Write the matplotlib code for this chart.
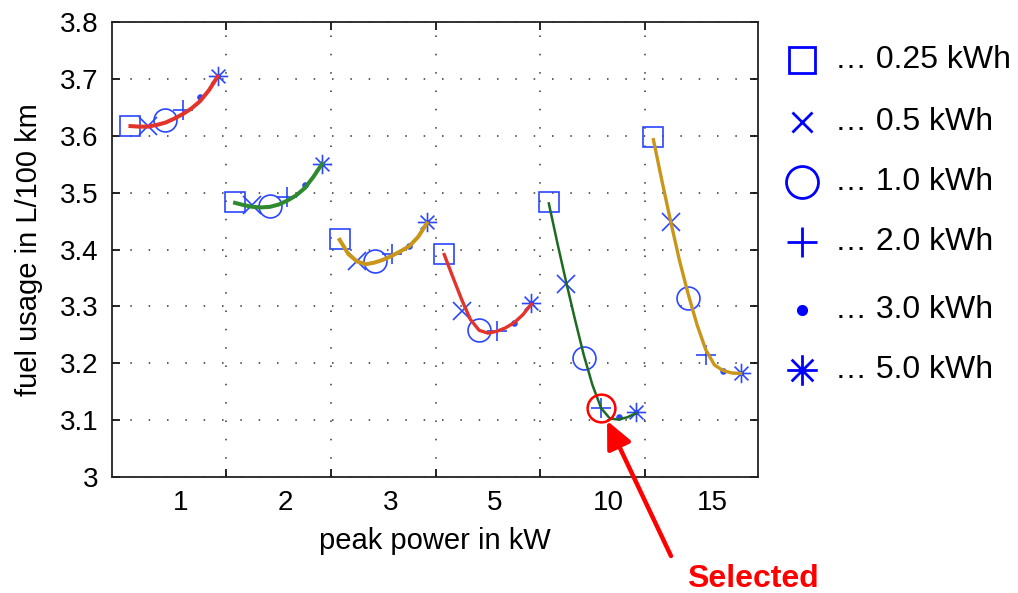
import matplotlib
matplotlib.use("Agg")
import matplotlib.pyplot as plt
from matplotlib.path import Path
from matplotlib.lines import Line2D

plt.rcParams['font.family'] = ['Liberation Sans', 'DejaVu Sans']

# peak power groups (kW) and battery capacities (kWh)
powers = ['1', '2', '3', '5', '10', '15']
capacities = ['0.25', '0.5', '1.0', '2.0', '3.0', '5.0']

# fuel usage (L/100 km) per power group, one value per capacity
fuel_1 = [3.617, 3.617, 3.627, 3.646, 3.668, 3.705]
fuel_2 = [3.483, 3.479, 3.476, 3.492, 3.513, 3.551]
fuel_3 = [3.419, 3.380, 3.379, 3.392, 3.407, 3.448]
fuel_5 = [3.392, 3.292, 3.259, 3.256, 3.271, 3.306]
fuel_10 = [3.483, 3.339, 3.209, 3.121, 3.106, 3.115]
fuel_15 = [3.598, 3.448, 3.315, 3.215, 3.186, 3.183]

# fitted curves, read at half-steps between the markers
fit_1 = [3.617, 3.616, 3.616, 3.619, 3.623, 3.630, 3.638, 3.648, 3.661, 3.680, 3.704]
fit_2 = [3.482, 3.478, 3.475, 3.474, 3.475, 3.479, 3.486, 3.495, 3.508, 3.528, 3.551]
fit_3 = [3.417, 3.392, 3.379, 3.374, 3.377, 3.382, 3.389, 3.397, 3.406, 3.422, 3.446]
fit_5 = [3.391, 3.351, 3.312, 3.277, 3.258, 3.253, 3.256, 3.262, 3.271, 3.285, 3.304]
fit_10 = [3.481, 3.410, 3.342, 3.277, 3.215, 3.162, 3.121, 3.103, 3.101, 3.105, 3.112]
fit_15 = [3.593, 3.519, 3.448, 3.380, 3.321, 3.268, 3.224, 3.197, 3.187, 3.183, 3.182]

fuel = [fuel_1, fuel_2, fuel_3, fuel_5, fuel_10, fuel_15]
fits = [fit_1, fit_2, fit_3, fit_5, fit_10, fit_15]

selected_group = 4
selected_cap = 3

curve_colors = ['#e3332b', '#2f8a2f', '#c9961a', '#e3332b', '#1f6a22', '#c9961a']
curve_widths = [2.9, 2.9, 2.9, 2.4, 1.8, 2.4]

# MATLAB style asterisk (plus and cross together)
star = Path([(-1, 0), (1, 0), (0, -1), (0, 1),
             (-0.71, -0.71), (0.71, 0.71), (-0.71, 0.71), (0.71, -0.71)],
            [Path.MOVETO, Path.LINETO] * 4)
markers = ['s', 'x', 'o', '+', 'o', star]
msizes = [14.5, 13, 16.5, 15, 3.5, 14]
mfill = ['none', 'none', 'none', 'none', 'full', 'none']
blue = '#2a46ff'

fig = plt.figure(figsize=(10.18, 5.93), dpi=100)
ax = fig.add_axes([112 / 1018, 1 - 477 / 593, (758 - 112) / 1018, (477 - 22) / 593])

n = len(capacities)
for g in range(len(powers)):
    xs = [g * n + j + 0.5 for j in range(n)]
    for j in range(n):
        ax.plot(xs[j], fuel[g][j], linestyle='none', marker=markers[j],
                markersize=msizes[j], markeredgecolor=blue,
                markerfacecolor=blue if mfill[j] == 'full' else 'none',
                markeredgewidth=1.2, zorder=3)
    xf = [g * n + 0.5 + k * 0.5 for k in range(len(fits[g]))]
    ax.plot(xf, fits[g], color=curve_colors[g], lw=curve_widths[g], zorder=4)

# selected configuration
sx = selected_group * n + selected_cap + 0.5
sy = fuel[selected_group][selected_cap]
ax.plot(sx, sy, marker='o', markersize=20, markerfacecolor='none',
        markeredgecolor='red', markeredgewidth=1.8, zorder=5)
ax.annotate('', xy=(sx, sy), xytext=(671, 593 - 556), textcoords='figure pixels',
            arrowprops=dict(arrowstyle='-|>,head_length=0.75,head_width=0.35',
                            color='red', lw=3.2, shrinkA=0, shrinkB=10,
                            mutation_scale=22),
            annotation_clip=False, zorder=6)
fig.text(753 / 1018, 6 / 593, 'Selected', color='red', fontsize=23,
         fontweight='bold', ha='center', va='baseline')

ax.set_xlim(-0.56, 36.5)
ax.set_ylim(3.0, 3.8)
yt = [3.0 + 0.1 * i for i in range(9)]
ax.set_yticks(yt)
ax.set_yticklabels(['3'] + ['%.1f' % v for v in yt[1:]])

ax.set_xticks([g * n for g in range(1, len(powers))], minor=True)
ax.set_xticks([g * n + 3.4 + 0.5 * (len(p) - 1) for g, p in enumerate(powers)])
ax.set_xticklabels(powers)
ax.tick_params(axis='x', which='major', length=0, pad=9, labelsize=20)
ax.tick_params(axis='x', which='minor', direction='in', length=6, width=1.2,
               top=True, bottom=True)
ax.tick_params(axis='y', direction='in', length=6, width=1.2, right=True,
               pad=10, labelsize=20)

grid_style = dict(color='#333333', linestyle=(0, (1, 11)), linewidth=1.1)
ax.grid(False)
ax.xaxis.grid(True, which='minor', **grid_style)
ax.yaxis.grid(True, which='major', **grid_style)

for s in ax.spines.values():
    s.set_linewidth(1.3)
    s.set_color('#222222')

ax.set_xlabel('peak power in kW', fontsize=21, labelpad=8)
ax.set_ylabel('fuel usage in L/100 km', fontsize=21, labelpad=12)

# legend drawn as a column of markers and labels right of the axes
leg_y = [60, 122, 182, 242, 310, 370]
leg_ms = [19, 15, 23, 21, 6, 22]
for j in range(n):
    fig.add_artist(Line2D([802 / 1018], [1 - leg_y[j] / 593], transform=fig.transFigure,
                          linestyle='none', marker=markers[j], markersize=leg_ms[j],
                          markeredgecolor='blue',
                          markerfacecolor='blue' if mfill[j] == 'full' else 'none',
                          markeredgewidth=2.0))
    fig.text(835 / 1018, 1 - leg_y[j] / 593, '\u2026 %s kWh' % capacities[j],
             fontsize=23, ha='left', va='center')

fig.savefig('out.png', dpi=100, facecolor='white')
